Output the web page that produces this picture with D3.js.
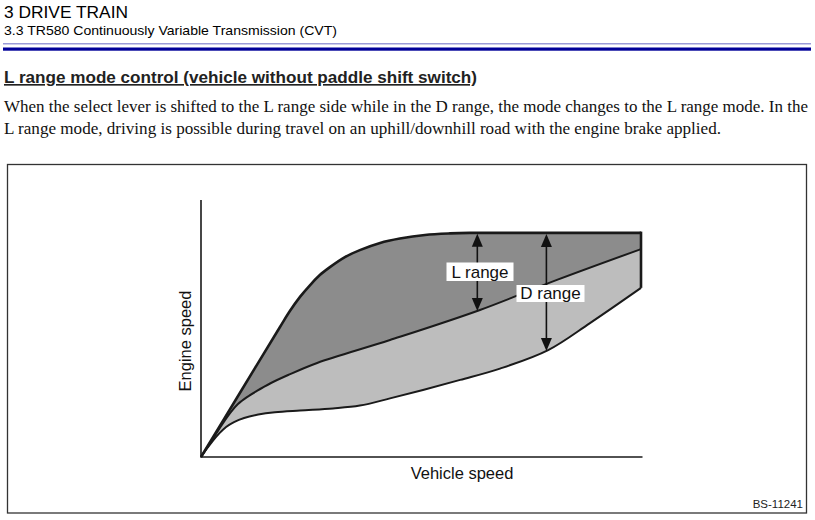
<!DOCTYPE html>
<html><head><meta charset="utf-8">
<script src="https://cdn.jsdelivr.net/npm/d3@7"></script>
<style>body{margin:0;background:#fff}svg{display:block}</style>
</head><body>
<script>
// Data (vehicle speed 0-100, engine speed 0-100, arbitrary units)
const upperX = [0, 9, 17.95, 20.2, 22.5, 24.8, 27.0, 29.3, 32.7, 36.1, 40.7, 45.2, 50.9, 56.6, 61.1, 75, 88, 100];
const upperY = [0, 25.4, 50.6, 56.8, 62.3, 66.9, 70.8, 73.9, 77.8, 80.5, 83.3, 85.0, 86.4, 87.0, 87.2, 87.2, 87.2, 87.2];
const middleX = [0, 2.5, 4.77, 6.6, 8.4, 10.45, 12.7, 15.7, 19.8, 26.4, 42.95, 63.4, 80.9, 100];
const middleY = [0, 6.6, 12.6, 17.1, 20.6, 23.3, 25.7, 28.6, 31.9, 36.6, 45.5, 57.2, 68.9, 80.9];
const lowerX = [0, 1.36, 2.73, 4.1, 5.7, 7.5, 9.8, 13.0, 16.8, 22.5, 30.0, 36.1, 42.95, 50.45, 58.9, 67.95, 78.9, 88.4, 100];
const lowerY = [0, 3.3, 6.4, 9.1, 11.7, 13.6, 15.2, 16.5, 17.4, 18.1, 18.9, 20.0, 22.8, 26.1, 30.0, 34.4, 41.6, 52.1, 65.8];
const rangeLabels = ["L range", "D range"];
const rangeArrowX = [62.8, 78.5];
const axisTitles = ["Vehicle speed", "Engine speed"];
const headerTexts = ["3 DRIVE TRAIN", "3.3 TR580 Continuously Variable Transmission (CVT)"];
const titleText = "L range mode control (vehicle without paddle shift switch)";
const bodyLines = ["When the select lever is shifted to the L range side while in the D range, the mode changes to the L range mode. In the",
                   "L range mode, driving is possible during travel on an uphill/downhill road with the engine brake applied."];
const figId = "BS-11241";

const W = 815, H = 520;
const svg = d3.select("body").append("svg").attr("width", W).attr("height", H);
const SANS = "Liberation Sans, Arial, sans-serif";

// Header
svg.append("text").attr("x", 4).attr("y", 18).attr("font-family", SANS)
  .attr("font-size", 17).attr("textLength", 124).attr("lengthAdjust", "spacingAndGlyphs").text(headerTexts[0]);
svg.append("text").attr("x", 4).attr("y", 35).attr("font-family", SANS)
  .attr("font-size", 13.5).attr("textLength", 333).attr("lengthAdjust", "spacingAndGlyphs").text(headerTexts[1]);
svg.append("rect").attr("x", 3).attr("y", 43).attr("width", 808).attr("height", 1.5).attr("fill", "#9a9ad8");
svg.append("rect").attr("x", 3).attr("y", 47.5).attr("width", 808).attr("height", 3.2).attr("fill", "#000099");

// Title
svg.append("text").attr("x", 4).attr("y", 83)
  .attr("font-family", "Liberation Sans Narrow, Arial Narrow, Liberation Sans, sans-serif")
  .attr("font-weight", "bold").attr("font-size", 16.5).attr("fill", "#222")
  .attr("text-decoration", "underline")
  .attr("textLength", 473).attr("lengthAdjust", "spacingAndGlyphs").text(titleText);

// Body
svg.append("text").attr("x", 4).attr("y", 112).attr("font-family", "Liberation Serif, Times New Roman, serif")
  .attr("font-size", 16).attr("fill", "#111").attr("textLength", 804).attr("lengthAdjust", "spacingAndGlyphs").text(bodyLines[0]);
svg.append("text").attr("x", 4).attr("y", 134).attr("font-family", "Liberation Serif, Times New Roman, serif")
  .attr("font-size", 16).attr("fill", "#111").attr("textLength", 717).attr("lengthAdjust", "spacingAndGlyphs").text(bodyLines[1]);

// Frame
svg.append("rect").attr("x", 7.5).attr("y", 164.5).attr("width", 799).attr("height", 348.5)
  .attr("fill", "none").attr("stroke", "#333").attr("stroke-width", 1.3);
svg.append("text").attr("x", 803).attr("y", 508).attr("text-anchor", "end")
  .attr("font-family", SANS).attr("font-size", 11.5).attr("fill", "#222").text(figId);

// Chart
const x = d3.scaleLinear().domain([0, 100]).range([201, 641]);
const y = d3.scaleLinear().domain([0, 100]).range([457, 200]);

const upper = upperX.map((v, i) => [v, upperY[i]]);
const middle = middleX.map((v, i) => [v, middleY[i]]);
const lower = lowerX.map((v, i) => [v, lowerY[i]]);

const line = d3.line().x(d => x(d[0])).y(d => y(d[1])).curve(d3.curveCatmullRom.alpha(0.5));

function sample(pts) {
  const path = document.createElementNS("http://www.w3.org/2000/svg", "path");
  path.setAttribute("d", line(pts));
  svg.node().appendChild(path);
  const L = path.getTotalLength();
  const out = [];
  for (let i = 0; i <= 800; i++) { const p = path.getPointAtLength(L * i / 800); out.push([p.x, p.y]); }
  path.remove();
  return out;
}
const su = sample(upper), sm = sample(middle), sl = sample(lower);
const poly = (a, b) => "M" + a.map(p => p.join(",")).join("L") + "L" + b.slice().reverse().map(p => p.join(",")).join("L") + "Z";

svg.append("path").attr("d", poly(su, sm)).attr("fill", "#8c8c8c");
svg.append("path").attr("d", poly(sm, sl)).attr("fill", "#bdbdbd");

svg.append("path").attr("d", line(lower)).attr("fill", "none").attr("stroke", "#1a1a1a").attr("stroke-width", 2);
svg.append("path").attr("d", line(middle)).attr("fill", "none").attr("stroke", "#1a1a1a").attr("stroke-width", 2);
svg.append("path").attr("d", line(upper)).attr("fill", "none").attr("stroke", "#1a1a1a").attr("stroke-width", 2.6);
svg.append("line").attr("x1", x(100)).attr("x2", x(100)).attr("y1", y(upperY[upperY.length - 1]) - 1.3)
  .attr("y2", y(lowerY[lowerY.length - 1])).attr("stroke", "#1a1a1a").attr("stroke-width", 2.6);

// Axes
svg.append("path").attr("d", `M${x(0)},${y(100)}V${y(0)}H${x(100) + 1.5}`).attr("fill", "none")
  .attr("stroke", "#1a1a1a").attr("stroke-width", 1.6);

// Arrows
function yAt(samples, px) {
  let best = samples[0];
  for (const p of samples) if (Math.abs(p[0] - px) < Math.abs(best[0] - px)) best = p;
  return best[1];
}
const targets = [sm, sl];
rangeArrowX.forEach((vx, i) => {
  const px = x(vx);
  const yTop = yAt(su, px), yBot = yAt(targets[i], px);
  svg.append("line").attr("x1", px).attr("x2", px).attr("y1", yTop + 10).attr("y2", yBot - 10)
    .attr("stroke", "#111").attr("stroke-width", 1.6);
  svg.append("path").attr("d", `M${px},${yTop + 1}L${px - 5.5},${yTop + 14}L${px + 5.5},${yTop + 14}Z`).attr("fill", "#111");
  svg.append("path").attr("d", `M${px},${yBot}L${px - 5.5},${yBot - 13}L${px + 5.5},${yBot - 13}Z`).attr("fill", "#111");
});

// Labels
const labelBoxes = [[446.5, 262.5, 67, 18.5], [516.5, 285, 68, 17]];
rangeLabels.forEach((t, i) => {
  const b = labelBoxes[i];
  svg.append("rect").attr("x", b[0]).attr("y", b[1]).attr("width", b[2]).attr("height", b[3]).attr("fill", "#fff");
  svg.append("text").attr("x", b[0] + b[2] / 2).attr("y", b[1] + b[3] - 3.5).attr("text-anchor", "middle")
    .attr("font-family", SANS).attr("font-size", 17).attr("fill", "#111").text(t);
});

svg.append("text").attr("x", 462).attr("y", 479).attr("text-anchor", "middle")
  .attr("font-family", SANS).attr("font-size", 16.5).attr("fill", "#111").text(axisTitles[0]);
svg.append("text").attr("transform", "translate(191,341) rotate(-90)").attr("text-anchor", "middle")
  .attr("font-family", SANS).attr("font-size", 16.5).attr("fill", "#111").text(axisTitles[1]);
</script>
</body></html>
